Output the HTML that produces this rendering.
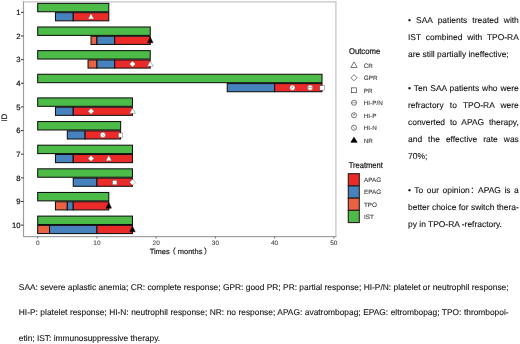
<!DOCTYPE html><html><head><meta charset="utf-8"><title>Figure</title><style>
html,body{margin:0;padding:0;background:#fff}
body{width:520px;height:344px;position:relative;overflow:hidden;font-family:"Liberation Sans","Noto Sans CJK SC",sans-serif;color:#111;text-rendering:geometricPrecision}
.r{position:absolute;left:408px;top:11.6px;width:110.8px;font-size:8.45px;line-height:17px;-webkit-text-stroke:0.1px #111}
.c{position:absolute;left:18.8px;top:274.9px;width:489.8px;font-size:8.38px;line-height:25.6px;-webkit-text-stroke:0.1px #111}
.l{height:17px;white-space:nowrap;text-align:left}
.c .l{height:25.6px}
.j{text-align:justify;text-align-last:justify;white-space:normal}
</style></head><body>
<svg width="520" height="344" viewBox="0 0 520 344" style="position:absolute;left:0;top:0" font-family="Liberation Sans, Arial, sans-serif" stroke-width="0.2" text-rendering="geometricPrecision">
<rect x="23.5" y="1.9" width="312.4" height="234.7" fill="#fff" stroke="#c6c6c6" stroke-width="1.25"/>
<rect x="37.70" y="3.35" width="71.08" height="8.4" fill="#4cbb47" stroke="#111" stroke-width="1.05"/>
<rect x="55.47" y="12.65" width="17.77" height="8.15" fill="#4682bd" stroke="#111" stroke-width="1.05"/>
<rect x="73.24" y="12.65" width="35.54" height="8.15" fill="#ea2b29" stroke="#111" stroke-width="1.05"/>
<polygon points="91.01,13.39 88.11,18.99 93.91,18.99" fill="#fff" stroke="#555" stroke-width="0.4"/>
<rect x="37.70" y="26.99" width="112.54" height="8.4" fill="#4cbb47" stroke="#111" stroke-width="1.05"/>
<rect x="91.01" y="36.29" width="5.92" height="8.15" fill="#ea6240" stroke="#111" stroke-width="1.05"/>
<rect x="96.93" y="36.29" width="17.77" height="8.15" fill="#4682bd" stroke="#111" stroke-width="1.05"/>
<rect x="114.70" y="36.29" width="35.54" height="8.15" fill="#ea2b29" stroke="#111" stroke-width="1.05"/>
<polygon points="150.24,36.85 147.44,42.75 153.04,42.75" fill="#000" stroke="#000" stroke-width="0.4"/>
<rect x="37.70" y="50.63" width="112.54" height="8.4" fill="#4cbb47" stroke="#111" stroke-width="1.05"/>
<rect x="88.05" y="59.93" width="8.88" height="8.15" fill="#ea6240" stroke="#111" stroke-width="1.05"/>
<rect x="96.93" y="59.93" width="17.77" height="8.15" fill="#4682bd" stroke="#111" stroke-width="1.05"/>
<rect x="114.70" y="59.93" width="35.54" height="8.15" fill="#ea2b29" stroke="#111" stroke-width="1.05"/>
<polygon points="132.47,61.03 135.47,64.03 132.47,67.03 129.47,64.03" fill="#fff" stroke="#555" stroke-width="0.4"/>
<polygon points="150.24,60.67 147.34,66.27 153.14,66.27" fill="#fff" stroke="#555" stroke-width="0.4"/>
<rect x="37.70" y="74.27" width="284.30" height="8.4" fill="#4cbb47" stroke="#111" stroke-width="1.05"/>
<rect x="227.24" y="83.57" width="47.38" height="8.15" fill="#4682bd" stroke="#111" stroke-width="1.05"/>
<rect x="274.62" y="83.57" width="47.38" height="8.15" fill="#ea2b29" stroke="#111" stroke-width="1.05"/>
<circle cx="292.39" cy="87.67" r="2.60" fill="#fff" stroke="#555" stroke-width="0.4"/><polyline points="291.29,86.77 293.29,86.77 291.49,88.67" fill="none" stroke="#666" stroke-width="0.5"/>
<circle cx="310.16" cy="87.67" r="2.60" fill="#fff" stroke="#555" stroke-width="0.4"/><line x1="307.56" y1="87.67" x2="312.76" y2="87.67" stroke="#666" stroke-width="0.5"/>
<rect x="319.80" y="85.77" width="4.40" height="4.40" fill="#fff" stroke="#555" stroke-width="0.4"/>
<rect x="37.70" y="97.91" width="94.77" height="8.4" fill="#4cbb47" stroke="#111" stroke-width="1.05"/>
<rect x="55.47" y="107.21" width="17.77" height="8.15" fill="#4682bd" stroke="#111" stroke-width="1.05"/>
<rect x="73.24" y="107.21" width="59.23" height="8.15" fill="#ea2b29" stroke="#111" stroke-width="1.05"/>
<polygon points="91.01,108.31 94.01,111.31 91.01,114.31 88.01,111.31" fill="#fff" stroke="#555" stroke-width="0.4"/>
<polygon points="132.47,107.95 129.57,113.55 135.37,113.55" fill="#fff" stroke="#555" stroke-width="0.4"/>
<rect x="37.70" y="121.55" width="82.92" height="8.4" fill="#4cbb47" stroke="#111" stroke-width="1.05"/>
<rect x="67.31" y="130.85" width="17.77" height="8.15" fill="#4682bd" stroke="#111" stroke-width="1.05"/>
<rect x="85.08" y="130.85" width="35.54" height="8.15" fill="#ea2b29" stroke="#111" stroke-width="1.05"/>
<circle cx="102.85" cy="134.95" r="2.60" fill="#fff" stroke="#555" stroke-width="0.4"/><line x1="101.55" y1="133.65" x2="104.15" y2="136.25" stroke="#666" stroke-width="0.5"/>
<rect x="118.42" y="133.05" width="4.40" height="4.40" fill="#fff" stroke="#555" stroke-width="0.4"/>
<rect x="37.70" y="145.19" width="94.77" height="8.4" fill="#4cbb47" stroke="#111" stroke-width="1.05"/>
<rect x="55.47" y="154.49" width="17.77" height="8.15" fill="#4682bd" stroke="#111" stroke-width="1.05"/>
<rect x="73.24" y="154.49" width="59.23" height="8.15" fill="#ea2b29" stroke="#111" stroke-width="1.05"/>
<polygon points="91.01,155.59 94.01,158.59 91.01,161.59 88.01,158.59" fill="#fff" stroke="#555" stroke-width="0.4"/>
<polygon points="108.78,155.23 105.88,160.83 111.68,160.83" fill="#fff" stroke="#555" stroke-width="0.4"/>
<rect x="37.70" y="168.83" width="94.77" height="8.4" fill="#4cbb47" stroke="#111" stroke-width="1.05"/>
<rect x="73.24" y="178.13" width="23.69" height="8.15" fill="#4682bd" stroke="#111" stroke-width="1.05"/>
<rect x="96.93" y="178.13" width="35.54" height="8.15" fill="#ea2b29" stroke="#111" stroke-width="1.05"/>
<rect x="112.50" y="180.33" width="4.40" height="4.40" fill="#fff" stroke="#555" stroke-width="0.4"/>
<polygon points="132.47,179.23 135.47,182.23 132.47,185.23 129.47,182.23" fill="#fff" stroke="#555" stroke-width="0.4"/>
<rect x="37.70" y="192.47" width="71.08" height="8.4" fill="#4cbb47" stroke="#111" stroke-width="1.05"/>
<rect x="55.47" y="201.77" width="11.85" height="8.15" fill="#ea6240" stroke="#111" stroke-width="1.05"/>
<rect x="67.31" y="201.77" width="5.92" height="8.15" fill="#4682bd" stroke="#111" stroke-width="1.05"/>
<rect x="73.24" y="201.77" width="35.54" height="8.15" fill="#ea2b29" stroke="#111" stroke-width="1.05"/>
<polygon points="108.78,202.33 105.98,208.23 111.58,208.23" fill="#000" stroke="#000" stroke-width="0.4"/>
<rect x="37.70" y="216.11" width="94.77" height="8.4" fill="#4cbb47" stroke="#111" stroke-width="1.05"/>
<rect x="37.70" y="225.41" width="11.85" height="8.15" fill="#ea6240" stroke="#111" stroke-width="1.05"/>
<rect x="49.55" y="225.41" width="47.38" height="8.15" fill="#4682bd" stroke="#111" stroke-width="1.05"/>
<rect x="96.93" y="225.41" width="35.54" height="8.15" fill="#ea2b29" stroke="#111" stroke-width="1.05"/>
<polygon points="132.47,225.97 129.67,231.87 135.27,231.87" fill="#000" stroke="#000" stroke-width="0.4"/>
<path d="M23.5 1.3V236.6H336.5" fill="none" stroke="#999" stroke-width="0.9"/>
<line x1="21" x2="23.5" y1="12.35" y2="12.35" stroke="#222" stroke-width="0.9"/>
<text x="20.6" y="15.10" font-size="7.7" text-anchor="end" fill="#111" stroke="#111">1</text>
<line x1="21" x2="23.5" y1="35.99" y2="35.99" stroke="#222" stroke-width="0.9"/>
<text x="20.6" y="38.74" font-size="7.7" text-anchor="end" fill="#111" stroke="#111">2</text>
<line x1="21" x2="23.5" y1="59.63" y2="59.63" stroke="#222" stroke-width="0.9"/>
<text x="20.6" y="62.38" font-size="7.7" text-anchor="end" fill="#111" stroke="#111">3</text>
<line x1="21" x2="23.5" y1="83.27" y2="83.27" stroke="#222" stroke-width="0.9"/>
<text x="20.6" y="86.02" font-size="7.7" text-anchor="end" fill="#111" stroke="#111">4</text>
<line x1="21" x2="23.5" y1="106.91" y2="106.91" stroke="#222" stroke-width="0.9"/>
<text x="20.6" y="109.66" font-size="7.7" text-anchor="end" fill="#111" stroke="#111">5</text>
<line x1="21" x2="23.5" y1="130.55" y2="130.55" stroke="#222" stroke-width="0.9"/>
<text x="20.6" y="133.30" font-size="7.7" text-anchor="end" fill="#111" stroke="#111">6</text>
<line x1="21" x2="23.5" y1="154.19" y2="154.19" stroke="#222" stroke-width="0.9"/>
<text x="20.6" y="156.94" font-size="7.7" text-anchor="end" fill="#111" stroke="#111">7</text>
<line x1="21" x2="23.5" y1="177.83" y2="177.83" stroke="#222" stroke-width="0.9"/>
<text x="20.6" y="180.58" font-size="7.7" text-anchor="end" fill="#111" stroke="#111">8</text>
<line x1="21" x2="23.5" y1="201.47" y2="201.47" stroke="#222" stroke-width="0.9"/>
<text x="20.6" y="204.22" font-size="7.7" text-anchor="end" fill="#111" stroke="#111">9</text>
<line x1="21" x2="23.5" y1="225.11" y2="225.11" stroke="#222" stroke-width="0.9"/>
<text x="20.6" y="227.86" font-size="7.7" text-anchor="end" fill="#111" stroke="#111">10</text>
<line x1="37.70" x2="37.70" y1="236.6" y2="238.5" stroke="#444" stroke-width="0.7"/>
<text x="37.70" y="245.2" font-size="6.45" text-anchor="middle" fill="#4a4a4a" stroke="#4a4a4a" stroke-width="0.1">0</text>
<line x1="96.93" x2="96.93" y1="236.6" y2="238.5" stroke="#444" stroke-width="0.7"/>
<text x="96.93" y="245.2" font-size="6.45" text-anchor="middle" fill="#4a4a4a" stroke="#4a4a4a" stroke-width="0.1">10</text>
<line x1="156.16" x2="156.16" y1="236.6" y2="238.5" stroke="#444" stroke-width="0.7"/>
<text x="156.16" y="245.2" font-size="6.45" text-anchor="middle" fill="#4a4a4a" stroke="#4a4a4a" stroke-width="0.1">20</text>
<line x1="215.39" x2="215.39" y1="236.6" y2="238.5" stroke="#444" stroke-width="0.7"/>
<text x="215.39" y="245.2" font-size="6.45" text-anchor="middle" fill="#4a4a4a" stroke="#4a4a4a" stroke-width="0.1">30</text>
<line x1="274.62" x2="274.62" y1="236.6" y2="238.5" stroke="#444" stroke-width="0.7"/>
<text x="274.62" y="245.2" font-size="6.45" text-anchor="middle" fill="#4a4a4a" stroke="#4a4a4a" stroke-width="0.1">40</text>
<line x1="333.85" x2="333.85" y1="236.6" y2="238.5" stroke="#444" stroke-width="0.7"/>
<text x="333.85" y="245.2" font-size="6.45" text-anchor="middle" fill="#4a4a4a" stroke="#4a4a4a" stroke-width="0.1">50</text>
<text x="149.65" y="253.8" font-size="7.5" fill="#222" stroke="#222" font-family="Liberation Sans, Noto Sans CJK SC, sans-serif">Times<tspan dx="-1.5">（</tspan><tspan dx="2">months</tspan><tspan dx="1.7">）</tspan></text>
<text transform="translate(7.0,117.6) rotate(-90)" font-size="8" text-anchor="middle" fill="#222" stroke="#222">ID</text>
<text x="348.9" y="53.9" font-size="8.4" textLength="31.4" lengthAdjust="spacingAndGlyphs" fill="#111" stroke="#111">Outcome</text>
<polygon points="354.00,61.89 350.85,67.49 357.15,67.49" fill="#fff" stroke="#444" stroke-width="0.7"/>
<text x="363.8" y="67.55" font-size="6.3" fill="#333" stroke="#333" stroke-width="0.08">CR</text>
<polygon points="354.00,74.70 357.05,77.75 354.00,80.80 350.95,77.75" fill="#fff" stroke="#444" stroke-width="0.7"/>
<text x="363.8" y="80.05" font-size="6.3" fill="#333" stroke="#333" stroke-width="0.08">GPR</text>
<rect x="351.60" y="87.85" width="4.80" height="4.80" fill="#fff" stroke="#444" stroke-width="0.7"/>
<text x="363.8" y="92.55" font-size="6.3" fill="#333" stroke="#333" stroke-width="0.08">PR</text>
<circle cx="354.00" cy="102.75" r="2.55" fill="#fff" stroke="#444" stroke-width="0.7"/><line x1="351.45" y1="102.75" x2="356.55" y2="102.75" stroke="#444" stroke-width="0.5249999999999999"/>
<text x="363.8" y="105.05" font-size="6.3" fill="#333" stroke="#333" stroke-width="0.08">HI-P/N</text>
<circle cx="354.00" cy="115.25" r="2.55" fill="#fff" stroke="#444" stroke-width="0.7"/><polyline points="352.90,114.35 354.90,114.35 353.10,116.25" fill="none" stroke="#444" stroke-width="0.5249999999999999"/>
<text x="363.8" y="117.55" font-size="6.3" fill="#333" stroke="#333" stroke-width="0.08">HI-P</text>
<circle cx="354.00" cy="127.75" r="2.55" fill="#fff" stroke="#444" stroke-width="0.7"/><line x1="352.70" y1="126.45" x2="355.30" y2="129.05" stroke="#444" stroke-width="0.5249999999999999"/>
<text x="363.8" y="130.05" font-size="6.3" fill="#333" stroke="#333" stroke-width="0.08">HI-N</text>
<polygon points="354.00,137.25 350.90,142.25 357.10,142.25" fill="#000" stroke="#000" stroke-width="0.7"/>
<text x="363.8" y="142.55" font-size="6.3" fill="#333" stroke="#333" stroke-width="0.08">NR</text>
<text x="348.7" y="168.2" font-size="8.4" textLength="34.2" lengthAdjust="spacingAndGlyphs" fill="#111" stroke="#111">Treatment</text>
<rect x="348.3" y="173.70" width="11.0" height="12.22" fill="#ea2b29" stroke="#2a1a1a" stroke-width="1.1"/>
<text x="364" y="181.70" font-size="6.3" fill="#333" stroke="#333" stroke-width="0.08">APAG</text>
<rect x="348.3" y="185.92" width="11.0" height="12.22" fill="#4682bd" stroke="#2a1a1a" stroke-width="1.1"/>
<text x="364" y="194.10" font-size="6.3" fill="#333" stroke="#333" stroke-width="0.08">EPAG</text>
<rect x="348.3" y="198.14" width="11.0" height="12.22" fill="#ea6240" stroke="#2a1a1a" stroke-width="1.1"/>
<text x="364" y="206.50" font-size="6.3" fill="#333" stroke="#333" stroke-width="0.08">TPO</text>
<rect x="348.3" y="210.36" width="11.0" height="12.22" fill="#4cbb47" stroke="#2a1a1a" stroke-width="1.1"/>
<text x="364" y="218.90" font-size="6.3" fill="#333" stroke="#333" stroke-width="0.08">IST</text>
</svg>
<div class="r">
<div class="l j">• SAA patients treated with</div>
<div class="l j">IST combined with TPO-RA</div>
<div class="l">are still partially ineffective;</div>
<div class="l">&nbsp;</div>
<div class="l j">• Ten SAA patients who were</div>
<div class="l j">refractory to TPO-RA were</div>
<div class="l j">converted to APAG therapy,</div>
<div class="l j">and the effective rate was</div>
<div class="l">70%;</div>
<div class="l">&nbsp;</div>
<div class="l j">• To our opinion<span style="margin-left:-0.8px;margin-right:-1.8px">：</span>APAG is a</div>
<div class="l j">better choice for switch thera-</div>
<div class="l">py in TPO-RA -refractory.</div>
</div><div class="c">
<div class="l j">SAA: severe aplastic anemia; CR: complete response; GPR: good PR; PR: partial response; HI-P/N: platelet or neutrophil response;</div>
<div class="l j">HI-P: platelet response; HI-N: neutrophil response; NR: no response;  APAG: avatrombopag; EPAG: eltrombopag; TPO: thrombopoi-</div>
<div class="l">etin; IST: immunosuppressive therapy.</div>
</div></body></html>
